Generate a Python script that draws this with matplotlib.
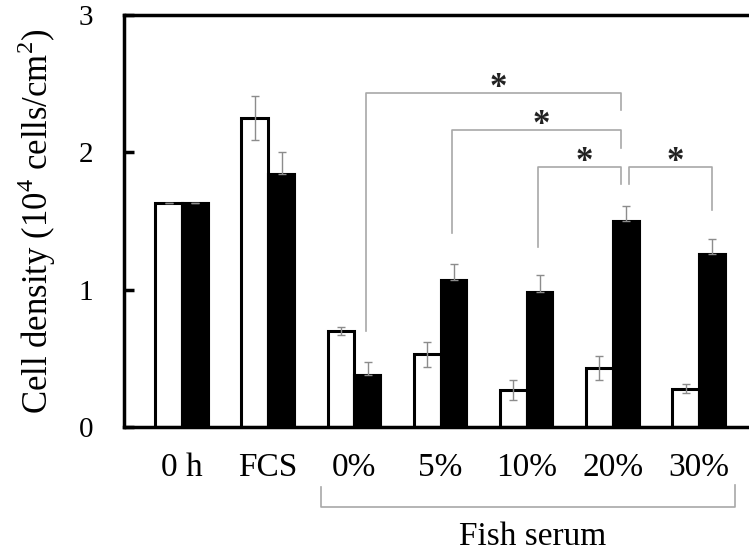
import numpy as np
import matplotlib
matplotlib.use('Agg')
import matplotlib.pyplot as plt

plt.rcParams['font.family'] = ['Liberation Serif', 'DejaVu Serif']
plt.rcParams['mathtext.fontset'] = 'custom'
plt.rcParams['mathtext.rm'] = 'Liberation Serif'

groups = ['0 h', 'FCS', '0%', '5%', '10%', '20%', '30%']
white_vals = [1.63, 2.25, 0.70, 0.53, 0.27, 0.43, 0.28]
white_err = [0.0, 0.16, 0.03, 0.09, 0.07, 0.085, 0.03]
black_vals = [1.63, 1.84, 0.38, 1.07, 0.98, 1.50, 1.26]
black_err = [0.0, 0.16, 0.09, 0.115, 0.13, 0.107, 0.11]

# significance brackets: left group, right group, bar level, left leg end, right leg end
br_left = [2, 3, 4, 5]
br_right = [5, 5, 5, 6]
br_level = [2.435, 2.16, 1.896, 1.896]
br_lend = [0.70, 1.415, 1.313, 1.768]
br_rend = [2.31, 2.034, 1.768, 1.58]

fig = plt.figure(figsize=(7.49, 5.54), dpi=100)
ax = fig.add_axes([124 / 749, 1 - 427 / 554, 1 - 124 / 749, (427 - 15) / 554])

x = np.arange(len(groups))
w = 0.31
gray = '#8c8c8c'
lgray = '#a8a8a8'

ax.bar(x - w / 2, white_vals, w, color='white', edgecolor='black', linewidth=2.2, zorder=2)
ax.bar(x + w / 2, black_vals, w, color='black', edgecolor='black', linewidth=1.5, zorder=2)
ax.errorbar(x - w / 2, white_vals, yerr=white_err, fmt='none', ecolor=gray,
            elinewidth=1, capsize=3, capthick=1, zorder=3)
ax.errorbar(x + w / 2, black_vals, yerr=[np.zeros(len(x)), black_err], fmt='none',
            ecolor=gray, elinewidth=1, capsize=3, capthick=1, zorder=3)

for a, b, lvl, yl, yr in zip(br_left, br_right, br_level, br_lend, br_rend):
    xl = a + w / 2 - 0.02
    xr = b + w / 2 - 0.055
    if b == 6:
        xl = a + w / 2 + 0.035
        xr = b + w / 2
    ax.plot([xl, xl, xr, xr], [yl, lvl, lvl, yr], color=lgray, lw=1.2, zorder=1)
    ax.text((xl + xr) / 2 + 0.05, lvl - 0.03, '*', ha='center', va='baseline',
            fontsize=25, fontweight='bold', color='#222222')

ax.set_xlim(-0.673, 6.58)
ax.set_ylim(0, 3)
ax.set_yticks([0, 1, 2, 3])
ax.tick_params(axis='y', direction='in', length=7, width=2.5, labelsize=21, pad=22)

ax.set_xticks(x)
ax.set_xticklabels(groups)
ax.tick_params(axis='x', length=0, labelsize=24, pad=18)

for s in ['left', 'bottom', 'top']:
    ax.spines[s].set_linewidth(2.5)
ax.spines['right'].set_visible(False)

ax.set_ylabel('Cell density (10$^4$ cells/cm$^2$)', fontsize=25, labelpad=15)

# fish serum bracket under the labels
fx0, fx1 = 1.61, 6.415
ax.plot([fx0, fx0, fx1, fx1], [-0.44, -0.58, -0.58, -0.42], color=lgray,
        lw=1.2, clip_on=False)
ax.text(4.07, -0.86, 'Fish serum', ha='center', va='baseline', fontsize=24)

fig.savefig('out.png', dpi=100, facecolor='white')
